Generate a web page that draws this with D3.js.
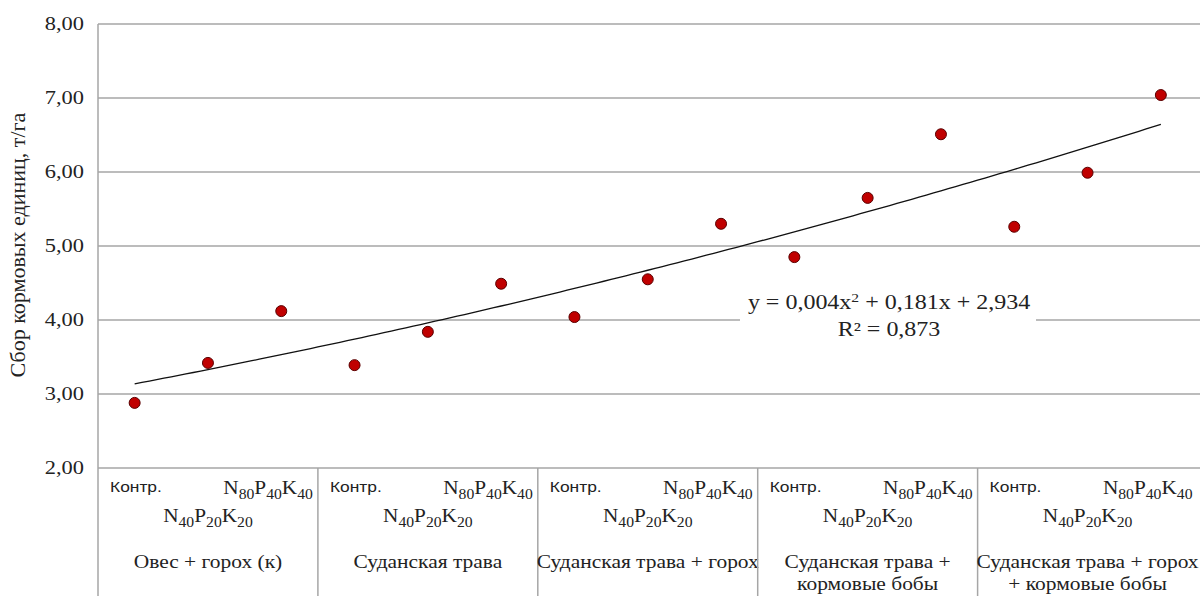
<!DOCTYPE html>
<html><head><meta charset="utf-8">
<script src="https://cdn.jsdelivr.net/npm/d3@7"></script>
<style>body{margin:0;background:#fff}svg{display:block}</style>
</head><body><svg id="c" width="1200" height="596"></svg>
<script>
const groups = [["Овес + горох (к)"],["Суданская трава"],["Суданская трава + горох"],["Суданская трава +","кормовые бобы"],["Суданская трава + горох","+ кормовые бобы"]];
const treatments = ["Контр.","N40P20K20","N80P40K40"];
const values = [2.88,3.42,4.12, 3.39,3.84,4.49, 4.04,4.55,5.30, 4.85,5.65,6.51, 5.26,5.99,7.04];
const yTicks = [2,3,4,5,6,7,8];
const yTitle = "Сбор кормовых единиц, т/га";
const eqLine1 = ["y = 0,004x","2"," + 0,181x + 2,934"];
const eqLine2 = "R² = 0,873";

const svg = d3.select("#c");
const L = 98, R = 1197.5, T = 24, B = 468;
const idx = d3.range(values.length);
const x = d3.scaleBand().domain(idx).range([L, R]);
const y = d3.scaleLinear().domain([2, 8]).range([B, T]);
const grid = "#a6a6a6", serif = "'Liberation Serif','Times New Roman',serif", sans = "'Liberation Sans',Arial,sans-serif";
const SX = 1.18;

function txt(px, py, anchor, size, family, sx) {
  return svg.append("g").attr("transform", `translate(${px},${py}) scale(${sx},1)`)
    .append("text").attr("text-anchor", anchor).attr("font-family", family)
    .attr("font-size", size).attr("fill", "#222");
}

// gridlines
svg.append("g").selectAll("line").data(yTicks).join("line")
  .attr("x1", L).attr("x2", 1200).attr("y1", d => y(d)).attr("y2", d => y(d))
  .attr("stroke", grid).attr("stroke-width", 1.5);
svg.append("line").attr("x1", L).attr("x2", L).attr("y1", T).attr("y2", 596).attr("stroke", grid).attr("stroke-width", 1.5);
// y tick labels
yTicks.forEach(d => txt(84, y(d) + 6, "end", 19, serif, SX).text(d3.format(".2f")(d).replace(".", ",")));
// y title
svg.append("text").attr("transform", "translate(25,245) rotate(-90)").attr("text-anchor", "middle")
  .attr("font-family", serif).attr("font-size", 22).attr("fill", "#222").text(yTitle);

const sub = (parent, label) => {
  label.match(/([A-Z])(\d+)/g).forEach((p, i) => {
    parent.append("tspan").attr("dy", i ? -5 : 0).text(p[0]);
    parent.append("tspan").attr("dy", 5).attr("font-size", 14).text(p.slice(1));
  });
};
const gw = x.step() * 3;
groups.forEach((g, i) => {
  const g0 = L + i * gw, cx = g0 + gw / 2;
  if (i > 0) svg.append("line").attr("x1", g0).attr("x2", g0).attr("y1", B).attr("y2", 596).attr("stroke", grid).attr("stroke-width", 1.5);
  txt(g0 + 12, 492, "start", 14.5, sans, 1.2).text(treatments[0]);
  sub(txt(g0 + gw - 5, 494, "end", 19, serif, 1.12), treatments[2]);
  sub(txt(cx, 522, "middle", 19, serif, 1.12), treatments[1]);
  g.forEach((line, k) => txt(cx, 568 + k * 22, "middle", 18.5, serif, 1.16).text(line));
});

// quadratic least-squares trendline fitted to the values
const X = idx.map(i => i + 1);
const S = k => d3.sum(X, t => Math.pow(t, k));
const Sy = k => d3.sum(X, (t, i) => Math.pow(t, k) * values[i]);
const A = [[S(0), S(1), S(2)], [S(1), S(2), S(3)], [S(2), S(3), S(4)]], bv = [Sy(0), Sy(1), Sy(2)];
function solve(M, v) {
  const n = v.length, a = M.map((r, i) => [...r, v[i]]);
  for (let c = 0; c < n; c++) {
    for (let r = c + 1; r < n; r++) { const f = a[r][c] / a[c][c]; for (let k = c; k <= n; k++) a[r][k] -= f * a[c][k]; }
  }
  const s = Array(n).fill(0);
  for (let r = n - 1; r >= 0; r--) { let t = a[r][n]; for (let k = r + 1; k < n; k++) t -= a[r][k] * s[k]; s[r] = t / a[r][r]; }
  return s;
}
const coef = solve(A, bv);
const f = t => coef[0] + coef[1] * t + coef[2] * t * t;
const xPos = t => x(0) + x.bandwidth() / 2 + (t - 1) * x.step();
svg.append("path").datum(d3.range(1, 15.001, 0.1)).attr("fill", "none").attr("stroke", "#111").attr("stroke-width", 1.3)
  .attr("d", d3.line().x(xPos).y(t => y(f(t))));

// equation label
svg.append("rect").attr("x", 740).attr("y", 288).attr("width", 296).attr("height", 56).attr("fill", "#fff");
const eq = txt(889, 309, "middle", 20, serif, 1.2);
eq.append("tspan").text(eqLine1[0]);
eq.append("tspan").attr("dy", -7).attr("font-size", 13).text(eqLine1[1]);
eq.append("tspan").attr("dy", 7).text(eqLine1[2]);
txt(889, 336, "middle", 20, serif, 1.2).text(eqLine2);

// points
svg.append("g").selectAll("circle").data(values).join("circle")
  .attr("cx", (d, i) => x(i) + x.bandwidth() / 2).attr("cy", d => y(d)).attr("r", 5.5)
  .attr("fill", "#c00000").attr("stroke", "#5a0000").attr("stroke-width", 1);
</script></body></html>
